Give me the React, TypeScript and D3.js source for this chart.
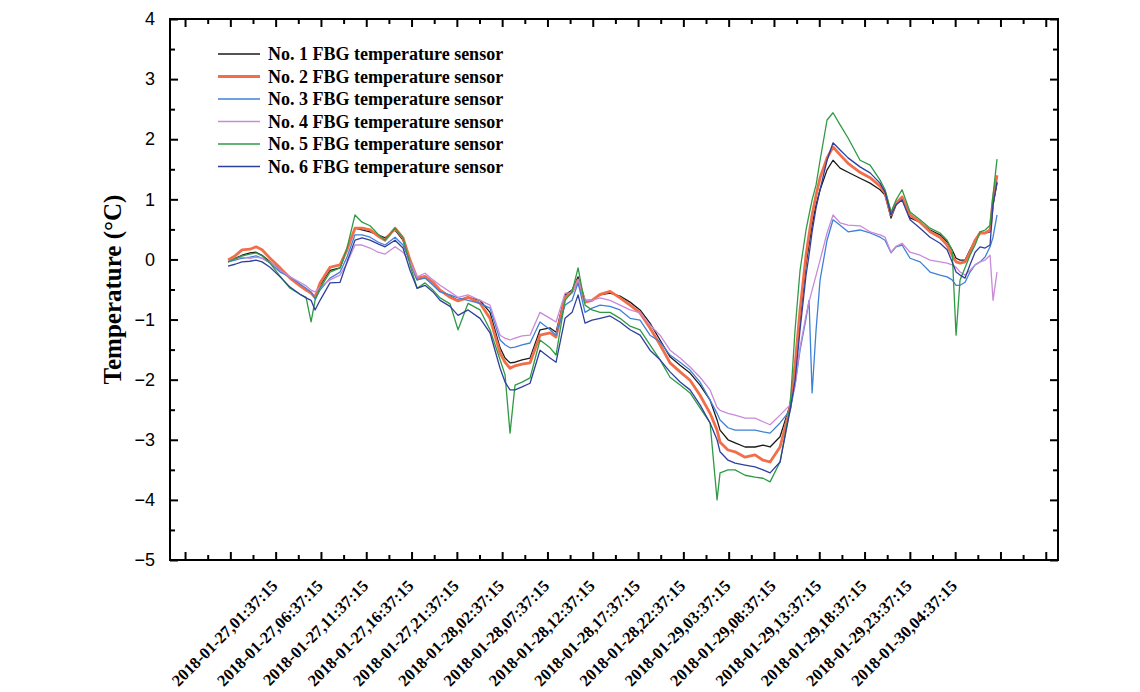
import React, { useEffect, useRef } from "react";
import * as d3 from "d3";

// time in hours after 2018-01-27 01:37:15
const hours = [
  -5.25, -4.48, -3.71, -2.83, -2.16, -1.5, -0.62, 0.49, 1.59, 2.69,
  3.36, 3.91, 4.35, 4.9, 6.0, 7.11, 7.88, 8.76, 9.54, 10.42,
  11.3, 12.08, 13.18, 14.06, 14.83, 15.61, 16.49, 17.37, 18.15, 19.25,
  20.13, 21.24, 22.56, 23.66, 24.77, 25.32, 25.87, 26.42, 27.2, 28.08,
  29.18, 30.29, 30.95, 31.94, 32.72, 33.38, 34.15, 34.92, 35.81, 36.91,
  38.01, 39.12, 40.22, 41.32, 42.43, 43.53, 44.64, 45.74, 46.84, 47.95,
  48.72, 49.05, 49.93, 50.71, 51.81, 52.91, 53.8, 54.57, 55.67, 56.78,
  57.33, 57.88, 58.54, 58.87, 59.21, 59.65, 60.09, 60.86, 61.52, 62.3,
  63.18, 64.5, 65.61, 66.71, 67.26, 67.92, 68.48, 69.14, 70.02, 71.13,
  72.23, 73.33, 74.11, 74.66, 75.1, 75.54, 76.09, 76.64, 77.2, 77.75,
  78.3, 78.85, 79.18, 79.62,
];

const sensor1 = [
  -0.04, 0.02, 0.07, 0.11, 0.12, 0.07, -0.04, -0.18, -0.31, -0.44,
  -0.51, -0.56, -0.63, -0.43, -0.18, -0.14, 0.16, 0.52, 0.49, 0.46,
  0.41, 0.36, 0.49, 0.32, -0.04, -0.34, -0.29, -0.39, -0.51, -0.61,
  -0.68, -0.63, -0.68, -0.88, -1.47, -1.64, -1.72, -1.71, -1.67, -1.64,
  -1.17, -1.14, -1.21, -0.59, -0.51, -0.29, -0.68, -0.68, -0.59, -0.56,
  -0.61, -0.71, -0.84, -1.06, -1.34, -1.62, -1.76, -1.89, -2.09, -2.34,
  -2.67, -2.84, -3.0, -3.05, -3.12, -3.12, -3.09, -3.12, -2.95, -2.42,
  -1.84, -1.01, -0.09, 0.24, 0.57, 0.91, 1.16, 1.49, 1.65, 1.52,
  1.45, 1.35, 1.27, 1.16, 1.07, 0.69, 0.91, 1.02, 0.69, 0.62,
  0.49, 0.41, 0.29, 0.16, 0.02, -0.01, -0.01, 0.16, 0.32, 0.46,
  0.44, 0.46, 0.91, 1.27,
];

const sensor2 = [
  -0.01, 0.06, 0.16, 0.17, 0.21, 0.16, 0.02, -0.14, -0.31, -0.44,
  -0.51, -0.56, -0.63, -0.39, -0.13, -0.09, 0.16, 0.52, 0.52, 0.49,
  0.39, 0.32, 0.52, 0.36, -0.01, -0.31, -0.28, -0.38, -0.51, -0.63,
  -0.69, -0.63, -0.73, -0.98, -1.56, -1.71, -1.81, -1.77, -1.74, -1.72,
  -1.26, -1.22, -1.29, -0.64, -0.54, -0.34, -0.71, -0.68, -0.58, -0.53,
  -0.64, -0.76, -0.89, -1.14, -1.42, -1.72, -1.87, -2.01, -2.26, -2.56,
  -2.84, -3.04, -3.17, -3.2, -3.29, -3.25, -3.34, -3.37, -3.12, -2.47,
  -1.76, -0.84, 0.07, 0.41, 0.74, 1.07, 1.36, 1.69, 1.87, 1.74,
  1.6, 1.45, 1.36, 1.22, 1.11, 0.74, 0.94, 1.04, 0.74, 0.62,
  0.46, 0.37, 0.24, 0.07, -0.04, -0.06, -0.04, 0.12, 0.32, 0.44,
  0.44, 0.49, 0.99, 1.4,
];

const sensor3 = [
  -0.04, -0.01, 0.02, 0.04, 0.06, 0.02, -0.06, -0.21, -0.29, -0.41,
  -0.48, -0.54, -0.66, -0.51, -0.31, -0.21, 0.04, 0.41, 0.41, 0.37,
  0.29, 0.24, 0.37, 0.24, -0.04, -0.34, -0.31, -0.43, -0.54, -0.59,
  -0.64, -0.68, -0.73, -0.81, -1.34, -1.42, -1.47, -1.46, -1.42, -1.39,
  -1.04, -1.17, -1.26, -0.76, -0.68, -0.39, -0.88, -0.81, -0.76, -0.78,
  -0.84, -0.98, -1.01, -1.26, -1.37, -1.59, -1.71, -1.84, -2.04, -2.34,
  -2.56, -2.67, -2.8, -2.84, -2.84, -2.84, -2.87, -2.89, -2.72, -2.51,
  -2.09, -1.51, -0.98, -0.68, -2.22, -1.17, -0.34, 0.32, 0.66, 0.57,
  0.46, 0.49, 0.44, 0.37, 0.32, 0.11, 0.21, 0.24, 0.02, -0.04,
  -0.21, -0.26, -0.29, -0.34, -0.43, -0.43, -0.38, -0.21, -0.09, -0.04,
  0.04, 0.21, 0.37, 0.74,
];

const sensor4 = [
  -0.03, 0.01, 0.04, 0.02, 0.04, 0.02, -0.04, -0.18, -0.29, -0.38,
  -0.44, -0.51, -0.54, -0.46, -0.34, -0.26, -0.06, 0.24, 0.24, 0.19,
  0.12, 0.09, 0.21, 0.12, -0.04, -0.29, -0.23, -0.34, -0.43, -0.54,
  -0.63, -0.59, -0.68, -0.76, -1.26, -1.31, -1.34, -1.31, -1.27, -1.26,
  -0.88, -0.98, -1.04, -0.56, -0.56, -0.34, -0.68, -0.68, -0.64, -0.68,
  -0.76, -0.84, -0.89, -1.09, -1.26, -1.51, -1.64, -1.79, -1.96, -2.17,
  -2.46, -2.51, -2.56, -2.59, -2.64, -2.64, -2.7, -2.75, -2.59, -2.42,
  -2.09, -1.46, -0.93, -0.71, -0.51, -0.26, -0.01, 0.44, 0.74, 0.61,
  0.57, 0.56, 0.46, 0.41, 0.37, 0.12, 0.22, 0.27, 0.12, 0.07,
  -0.01, -0.04, -0.06, -0.09, -0.13, -0.21, -0.26, -0.18, -0.09, -0.04,
  -0.01, 0.07, -0.68, -0.21,
];

const sensor5 = [
  -0.04, 0.01, 0.06, 0.09, 0.11, 0.06, -0.06, -0.28, -0.48, -0.58,
  -0.63, -1.04, -0.68, -0.48, -0.21, -0.14, 0.19, 0.74, 0.62, 0.56,
  0.42, 0.32, 0.52, 0.36, -0.09, -0.48, -0.39, -0.51, -0.64, -0.74,
  -1.17, -0.73, -0.84, -1.17, -1.67, -1.92, -2.89, -2.09, -2.04, -1.97,
  -1.34, -1.47, -1.59, -0.68, -0.54, -0.14, -0.76, -0.84, -0.88, -0.88,
  -0.98, -1.11, -1.17, -1.42, -1.67, -1.96, -2.09, -2.22, -2.47, -2.72,
  -4.0, -3.55, -3.5, -3.5, -3.59, -3.62, -3.64, -3.7, -3.37, -2.46,
  -1.17, -0.18, 0.49, 0.74, 0.99, 1.24, 1.65, 2.32, 2.44, 2.24,
  2.02, 1.65, 1.57, 1.32, 1.16, 0.79, 0.99, 1.16, 0.79, 0.66,
  0.52, 0.44, 0.32, 0.16, -1.26, -0.34, -0.14, 0.07, 0.24, 0.46,
  0.49, 0.57, 1.07, 1.67,
];

const sensor6 = [
  -0.11, -0.08, -0.04, -0.03, -0.01, -0.04, -0.13, -0.29, -0.46, -0.58,
  -0.64, -0.68, -0.84, -0.68, -0.39, -0.38, -0.04, 0.32, 0.36, 0.32,
  0.26, 0.21, 0.32, 0.19, -0.18, -0.48, -0.43, -0.54, -0.68, -0.78,
  -0.93, -0.84, -0.98, -1.22, -1.81, -2.04, -2.17, -2.17, -2.12, -2.06,
  -1.51, -1.64, -1.71, -0.98, -0.88, -0.59, -1.06, -1.01, -0.98, -0.94,
  -1.04, -1.17, -1.26, -1.51, -1.67, -1.87, -2.04, -2.17, -2.42, -2.72,
  -3.0, -3.2, -3.34, -3.39, -3.42, -3.45, -3.5, -3.55, -3.37, -2.51,
  -2.01, -1.17, -0.26, 0.07, 0.46, 0.86, 1.16, 1.65, 1.94, 1.82,
  1.69, 1.54, 1.44, 1.27, 1.12, 0.74, 0.91, 0.99, 0.66, 0.52,
  0.37, 0.27, 0.16, -0.04, -0.21, -0.26, -0.31, -0.09, 0.12, 0.21,
  0.19, 0.24, 0.91, 1.29,
];

const seriesNames = [
  "No. 1 FBG temperature sensor",
  "No. 2 FBG temperature sensor",
  "No. 3 FBG temperature sensor",
  "No. 4 FBG temperature sensor",
  "No. 5 FBG temperature sensor",
  "No. 6 FBG temperature sensor",
];
const seriesColors = ["#1a1a1a", "#f26e4a", "#3f80d8", "#c98ad9", "#2f9a45", "#2f3f9e"];
const seriesWidths = [1.3, 2.8, 1.3, 1.3, 1.3, 1.3];

const yTicks = [-5, -4, -3, -2, -1, 0, 1, 2, 3, 4];
const xLabelHours = [0, 5, 10, 15, 20, 25, 30, 35, 40, 45, 50, 55, 60, 65, 70, 75];

const startTime = new Date(2018, 0, 27, 1, 37, 15);

export default function App() {
  const ref = useRef<SVGSVGElement>(null);

  useEffect(() => {
    const allSeries = [sensor1, sensor2, sensor3, sensor4, sensor5, sensor6];
    const margin = { top: 19, right: 82, bottom: 132, left: 170 };
    const w = 1140 - margin.left - margin.right;
    const h = 692 - margin.top - margin.bottom;

    const svg = d3.select(ref.current);
    svg.selectAll("*").remove();
    const g = svg.append("g").attr("transform", `translate(${margin.left},${margin.top})`);

    const x = d3.scaleLinear().domain([-11.66, 86.35]).range([0, w]);
    const y = d3.scaleLinear().domain([-5, 4]).range([h, 0]);

    const majorX = d3.range(-10, 86, 5);
    const minorX = d3.range(-7.5, 86, 5);
    const minorY = d3.range(-4.5, 4, 1);

    // left axis with labels, ticks pointing inward
    const left = g
      .append("g")
      .call(d3.axisLeft(y).tickValues(yTicks).tickSize(-8).tickPadding(15).tickFormat(d3.format("d")));
    left.selectAll("text").style("font-family", "'Liberation Sans', Arial, sans-serif").style("font-size", "18px").attr("fill", "#000");
    g.append("g").call(d3.axisLeft(y).tickValues(minorY).tickSize(-5).tickFormat(() => ""));
    g.append("g").attr("transform", `translate(${w},0)`).call(d3.axisRight(y).tickValues(yTicks).tickSize(-8).tickFormat(() => ""));
    g.append("g").attr("transform", `translate(${w},0)`).call(d3.axisRight(y).tickValues(minorY).tickSize(-5).tickFormat(() => ""));

    g.append("g").attr("transform", `translate(0,${h})`).call(d3.axisBottom(x).tickValues(majorX).tickSize(-8).tickFormat(() => ""));
    g.append("g").attr("transform", `translate(0,${h})`).call(d3.axisBottom(x).tickValues(minorX).tickSize(-5).tickFormat(() => ""));
    g.append("g").call(d3.axisTop(x).tickValues(majorX).tickSize(-8).tickFormat(() => ""));
    g.append("g").call(d3.axisTop(x).tickValues(minorX).tickSize(-5).tickFormat(() => ""));

    g.selectAll(".domain").remove();
    g.selectAll(".tick line").attr("stroke", "#000").attr("stroke-width", 2);

    // rotated time labels
    const fmt = d3.timeFormat("%Y-%m-%d,%H:%M:%S");
    g.append("g")
      .selectAll("text")
      .data(xLabelHours)
      .join("text")
      .attr("transform", (d) => `translate(${x(d) + 3},${h + 27}) rotate(-45)`)
      .attr("text-anchor", "end")
      .style("font-family", "'Liberation Serif', 'Times New Roman', serif")
      .style("font-weight", "bold")
      .style("font-size", "16.5px")
      .text((d) => fmt(new Date(startTime.getTime() + d * 3600 * 1000)));

    // y title
    g.append("text")
      .attr("transform", `translate(-58,${h / 2}) rotate(-90)`)
      .attr("text-anchor", "middle")
      .attr("dominant-baseline", "central")
      .style("font-family", "'Liberation Serif', 'Times New Roman', serif")
      .style("font-weight", "bold")
      .style("font-size", "25px")
      .text("Temperature (°C)");

    // lines
    const line = d3
      .line<number>()
      .x((d, i) => x(hours[i]))
      .y((d) => y(d));

    const plot = g.append("g");
    allSeries.forEach((s, k) => {
      plot
        .append("path")
        .datum(s)
        .attr("fill", "none")
        .attr("stroke", seriesColors[k])
        .attr("stroke-width", seriesWidths[k])
        .attr("stroke-linejoin", "round")
        .attr("d", line);
    });

    // frame
    g.append("rect").attr("width", w).attr("height", h).attr("fill", "none").attr("stroke", "#000").attr("stroke-width", 2);

    // legend
    const legend = g.append("g").attr("transform", "translate(48,35)");
    const rows = legend
      .selectAll("g")
      .data(seriesNames)
      .join("g")
      .attr("transform", (d, i) => `translate(0,${i * 22.5})`);
    rows
      .append("line")
      .attr("x1", 0)
      .attr("x2", 42)
      .attr("stroke", (d, i) => seriesColors[i])
      .attr("stroke-width", (d, i) => seriesWidths[i]);
    rows
      .append("text")
      .attr("x", 50)
      .attr("dominant-baseline", "central")
      .style("font-family", "'Liberation Serif', 'Times New Roman', serif")
      .style("font-weight", "bold")
      .style("font-size", "18px")
      .text((d) => d);
  }, []);

  return <svg ref={ref} width={1140} height={692} style={{ position: "absolute", left: 0, top: 0, background: "#fff" }} />;
}
